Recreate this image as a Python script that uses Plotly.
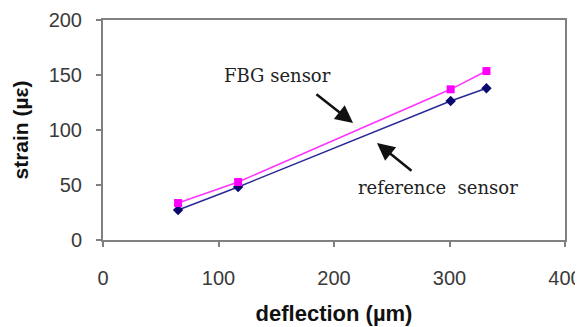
import plotly.graph_objects as go

deflection = [65, 117, 301, 332]
fbg_strain = [33.6, 52.7, 137.0, 153.6]
ref_strain = [27.3, 48.2, 126.4, 138.0]

x_ticks = [0, 100, 200, 300, 400]
y_ticks = [0, 50, 100, 150, 200]

fig = go.Figure()
fig.add_trace(go.Scatter(
    x=deflection, y=ref_strain, mode="lines+markers", name="reference sensor",
    line=dict(color="#2a2a96", width=1.5),
    marker=dict(symbol="diamond", size=8, color="#0a0a6e"),
))
fig.add_trace(go.Scatter(
    x=deflection, y=fbg_strain, mode="lines+markers", name="FBG sensor",
    line=dict(color="#ff33ff", width=1.5),
    marker=dict(symbol="square", size=8, color="#ff00ff"),
))

axis_common = dict(
    showline=True, linecolor="#808080", linewidth=2, mirror=True,
    ticks="outside", ticklen=5, tickcolor="#808080", tickwidth=2,
    showgrid=False, zeroline=False, automargin=False,
    tickfont=dict(family="Liberation Sans, Arial", size=20, color="#3a3a3a"),
)

# page body has an 8px margin, so the figure is sized/placed to compensate
fig.update_layout(
    width=575, height=319,
    margin=dict(l=95, r=18, t=12, b=87),
    paper_bgcolor="white", plot_bgcolor="white",
    showlegend=False,
    xaxis=dict(range=[0, 400], tickvals=x_ticks, ticklabelstandoff=14,
               title=dict(text="<b>deflection (µm)</b>", standoff=18,
                          font=dict(family="Liberation Sans, Arial", size=22, color="#111111")),
               **axis_common),
    yaxis=dict(range=[0, 200], tickvals=y_ticks, ticklabelstandoff=10,
               title=dict(text="<b>strain (µε)</b>", standoff=14,
                          font=dict(family="Liberation Sans, Arial", size=21, color="#111111")),
               **axis_common),
)

ann_font = dict(family="DejaVu Serif", size=18, color="#222222")
fig.add_annotation(x=151.5, y=150, xref="x", yref="y", text="FBG sensor",
                   showarrow=False, font=ann_font)
fig.add_annotation(x=290, y=47.3, xref="x", yref="y", text="reference&nbsp;&nbsp;sensor",
                   showarrow=False, font=ann_font)
fig.add_annotation(x=216.5, y=106.4, ax=183.5, ay=133.6, xref="x", yref="y",
                   axref="x", ayref="y", text="", showarrow=True,
                   arrowhead=2, arrowsize=1.4, arrowwidth=2.5, arrowcolor="#111111")
fig.add_annotation(x=237.2, y=88.2, ax=268.4, ay=61.8, xref="x", yref="y",
                   axref="x", ayref="y", text="", showarrow=True,
                   arrowhead=2, arrowsize=1.4, arrowwidth=2.5, arrowcolor="#111111")

fig.write_html("out.html")
